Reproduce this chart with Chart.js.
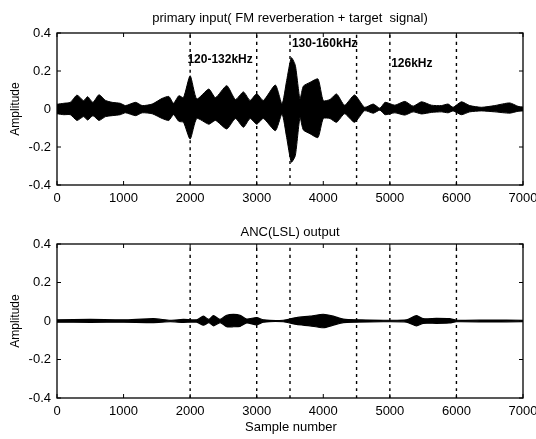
<!DOCTYPE html>
<html>
<head>
<meta charset="utf-8">
<script src="https://cdn.jsdelivr.net/npm/chart.js@4.4.0/dist/chart.umd.min.js"></script>
<style>
  html, body { margin: 0; padding: 0; background: #fff; }
  #wrap { position: relative; width: 536px; height: 439px; overflow: hidden; }
  .box { position: absolute; left: 0; width: 536px; }
</style>
</head>
<body>
<div id="wrap">
  <div class="box" style="top:0;height:220px;"><canvas id="c1"></canvas></div>
  <div class="box" style="top:220px;height:219px;"><canvas id="c2"></canvas></div>
</div>
<script>
// ---- data ----
const xTicks = [0, 1000, 2000, 3000, 4000, 5000, 6000, 7000];
const yTicks = [-0.4, -0.2, 0, 0.2, 0.4];
const dashPositions = [2000, 3000, 3500, 4500, 5000, 6000];

// top panel: envelope of primary input (sample number, upper, lower)
const topSamples = [0, 100, 200, 300, 400, 460, 540, 630, 730, 830, 950, 1030, 1180, 1280, 1430, 1580, 1680, 1750, 1830, 1900, 2000, 2100, 2280, 2380, 2550, 2680, 2800, 2900, 3000, 3100, 3280, 3380, 3450, 3520, 3580, 3650, 3700, 3800, 3920, 4000, 4100, 4200, 4320, 4470, 4620, 4750, 4850, 4930, 5075, 5225, 5350, 5475, 5625, 5775, 5875, 5950, 6075, 6200, 6375, 6575, 6800, 6925, 7000];
const topUpper = [0.025, 0.03, 0.035, 0.073, 0.044, 0.065, 0.035, 0.075, 0.045, 0.035, 0.03, 0.018, 0.035, 0.018, 0.026, 0.056, 0.066, 0.03, 0.07, 0.06, 0.175, 0.053, 0.105, 0.06, 0.123, 0.05, 0.09, 0.045, 0.08, 0.045, 0.126, 0.026, 0.15, 0.27, 0.23, 0.053, 0.12, 0.14, 0.158, 0.044, 0.05, 0.079, 0.02, 0.074, 0.009, 0.026, 0.004, 0.035, 0.02, 0.04, 0.015, 0.038, 0.02, 0.018, 0.026, 0.009, 0.038, 0.018, 0.009, 0.018, 0.032, 0.014, 0.01];
const topLower = [-0.025, -0.03, -0.03, -0.06, -0.04, -0.058, -0.035, -0.06, -0.04, -0.035, -0.03, -0.02, -0.035, -0.02, -0.025, -0.05, -0.06, -0.03, -0.065, -0.07, -0.158, -0.05, -0.08, -0.06, -0.105, -0.05, -0.096, -0.05, -0.08, -0.05, -0.114, -0.026, -0.15, -0.28, -0.245, -0.045, -0.11, -0.13, -0.15, -0.05, -0.05, -0.07, -0.025, -0.07, -0.009, -0.022, -0.006, -0.03, -0.02, -0.032, -0.015, -0.026, -0.018, -0.015, -0.02, -0.01, -0.03, -0.015, -0.01, -0.015, -0.022, -0.012, -0.01];

// bottom panel: envelope of ANC(LSL) output
const botSamples = [0, 500, 1000, 1450, 1700, 1900, 2100, 2200, 2280, 2350, 2450, 2550, 2650, 2750, 2850, 3000, 3100, 3400, 3600, 3800, 4000, 4150, 4300, 4500, 4900, 5250, 5400, 5500, 5700, 5900, 6000, 6500, 7000];
const botUpper = [0.006, 0.008, 0.006, 0.012, 0.004, 0.008, 0.006, 0.025, 0.008, 0.028, 0.008, 0.03, 0.034, 0.03, 0.01, 0.018, 0.006, 0.004, 0.018, 0.025, 0.035, 0.025, 0.01, 0.006, 0.004, 0.006, 0.028, 0.012, 0.014, 0.012, 0.004, 0.005, 0.004];
const botLower = [-0.006, -0.007, -0.006, -0.008, -0.004, -0.007, -0.006, -0.022, -0.008, -0.025, -0.008, -0.03, -0.03, -0.028, -0.01, -0.02, -0.006, -0.004, -0.018, -0.025, -0.035, -0.022, -0.008, -0.006, -0.004, -0.006, -0.025, -0.012, -0.012, -0.01, -0.004, -0.005, -0.004];

const annoText = ['120-132kHz', '130-160kHz', '126kHz'];
const annoX = [2450, 4020, 5330];
const annoY = [0.26, 0.345, 0.24];

// ---- helpers ----
const FONT = "'Liberation Sans', Arial, sans-serif";
function pts(xs, ys) { return xs.map((x, i) => ({ x: x, y: ys[i] })); }
function dashSets() {
  return dashPositions.map(v => ({
    data: [{ x: v, y: -0.4 }, { x: v, y: 0.4 }],
    borderColor: '#000', borderWidth: 1.4, borderDash: [3, 4],
    pointRadius: 0, fill: false
  }));
}

const framePlugin = {
  id: 'frame',
  afterDraw(chart) {
    const o = chart.options.plugins.frame;
    const ctx = chart.ctx, a = chart.chartArea;
    const xs = chart.scales.x, ys = chart.scales.y;
    ctx.save();
    ctx.strokeStyle = '#000';
    ctx.lineWidth = 1.3;
    ctx.strokeRect(a.left, a.top, a.right - a.left, a.bottom - a.top);
    ctx.lineWidth = 1;
    ctx.beginPath();
    xTicks.forEach(v => {
      const px = xs.getPixelForValue(v);
      ctx.moveTo(px, a.bottom); ctx.lineTo(px, a.bottom - 4);
      ctx.moveTo(px, a.top); ctx.lineTo(px, a.top + 4);
    });
    yTicks.forEach(v => {
      const py = ys.getPixelForValue(v);
      ctx.moveTo(a.left, py); ctx.lineTo(a.left + 4, py);
      ctx.moveTo(a.right, py); ctx.lineTo(a.right - 4, py);
    });
    ctx.stroke();
    ctx.fillStyle = '#000';
    ctx.font = '13px ' + FONT;
    ctx.textAlign = 'center';
    ctx.textBaseline = 'middle';
    ctx.fillText(o.title, (a.left + a.right) / 2, o.titleY);
    ctx.save();
    ctx.translate(16, (a.top + a.bottom) / 2);
    ctx.rotate(-Math.PI / 2);
    ctx.font = '12px ' + FONT;
    ctx.fillText('Amplitude', 0, 0);
    ctx.restore();
    if (o.xTitle) {
      ctx.font = '13px ' + FONT;
      ctx.fillText(o.xTitle, (a.left + a.right) / 2 + 1, o.xTitleY);
    }
    if (o.annotate) {
      ctx.font = 'bold 12px ' + FONT;
      annoText.forEach((t, i) => {
        ctx.fillText(t, xs.getPixelForValue(annoX[i]), ys.getPixelForValue(annoY[i]));
      });
    }
    ctx.restore();
  }
};

function makeOptions(pad, xH, frame) {
  return {
    responsive: true,
    maintainAspectRatio: false,
    animation: false,
    layout: { padding: pad },
    plugins: { legend: { display: false }, tooltip: { enabled: false }, frame: frame },
    elements: { line: { tension: 0.2 } },
    scales: {
      x: {
        type: 'linear', min: 0, max: 7000,
        afterFit: s => { s.height = xH; s.paddingLeft = 0; s.paddingRight = 0; },
        afterBuildTicks: s => { s.ticks = xTicks.map(v => ({ value: v })); },
        ticks: {
          color: '#000', font: { family: FONT, size: 13 }, padding: 6, maxRotation: 0,
          callback: v => String(v)
        },
        grid: { display: false, drawTicks: false },
        border: { display: false }
      },
      y: {
        min: -0.4, max: 0.4,
        afterFit: s => { s.width = 57; },
        afterBuildTicks: s => { s.ticks = yTicks.map(v => ({ value: v })); },
        ticks: {
          color: '#000', font: { family: FONT, size: 13 }, padding: 6,
          callback: v => (Math.abs(v) < 1e-9 ? '0' : v.toFixed(1))
        },
        grid: { display: false, drawTicks: false },
        border: { display: false }
      }
    }
  };
}

new Chart(document.getElementById('c1'), {
  type: 'line',
  data: {
    datasets: [
      { data: pts(topSamples, topUpper), borderColor: '#000', backgroundColor: '#000', borderWidth: 1, pointRadius: 0, fill: '+1' },
      { data: pts(topSamples, topLower), borderColor: '#000', backgroundColor: '#000', borderWidth: 1, pointRadius: 0, fill: false }
    ].concat(dashSets())
  },
  options: makeOptions({ top: 33, right: 13, left: 0, bottom: 0 }, 35,
    { title: 'primary input( FM reverberation + target  signal)', titleY: 18, annotate: true }),
  plugins: [framePlugin]
});

new Chart(document.getElementById('c2'), {
  type: 'line',
  data: {
    datasets: [
      { data: pts(botSamples, botUpper), borderColor: '#000', backgroundColor: '#000', borderWidth: 1.2, pointRadius: 0, fill: '+1' },
      { data: pts(botSamples, botLower), borderColor: '#000', backgroundColor: '#000', borderWidth: 1.2, pointRadius: 0, fill: false }
    ].concat(dashSets())
  },
  options: makeOptions({ top: 24, right: 13, left: 0, bottom: 0 }, 41,
    { title: 'ANC(LSL) output', titleY: 12, xTitle: 'Sample number', xTitleY: 207 }),
  plugins: [framePlugin]
});
</script>
</body>
</html>
